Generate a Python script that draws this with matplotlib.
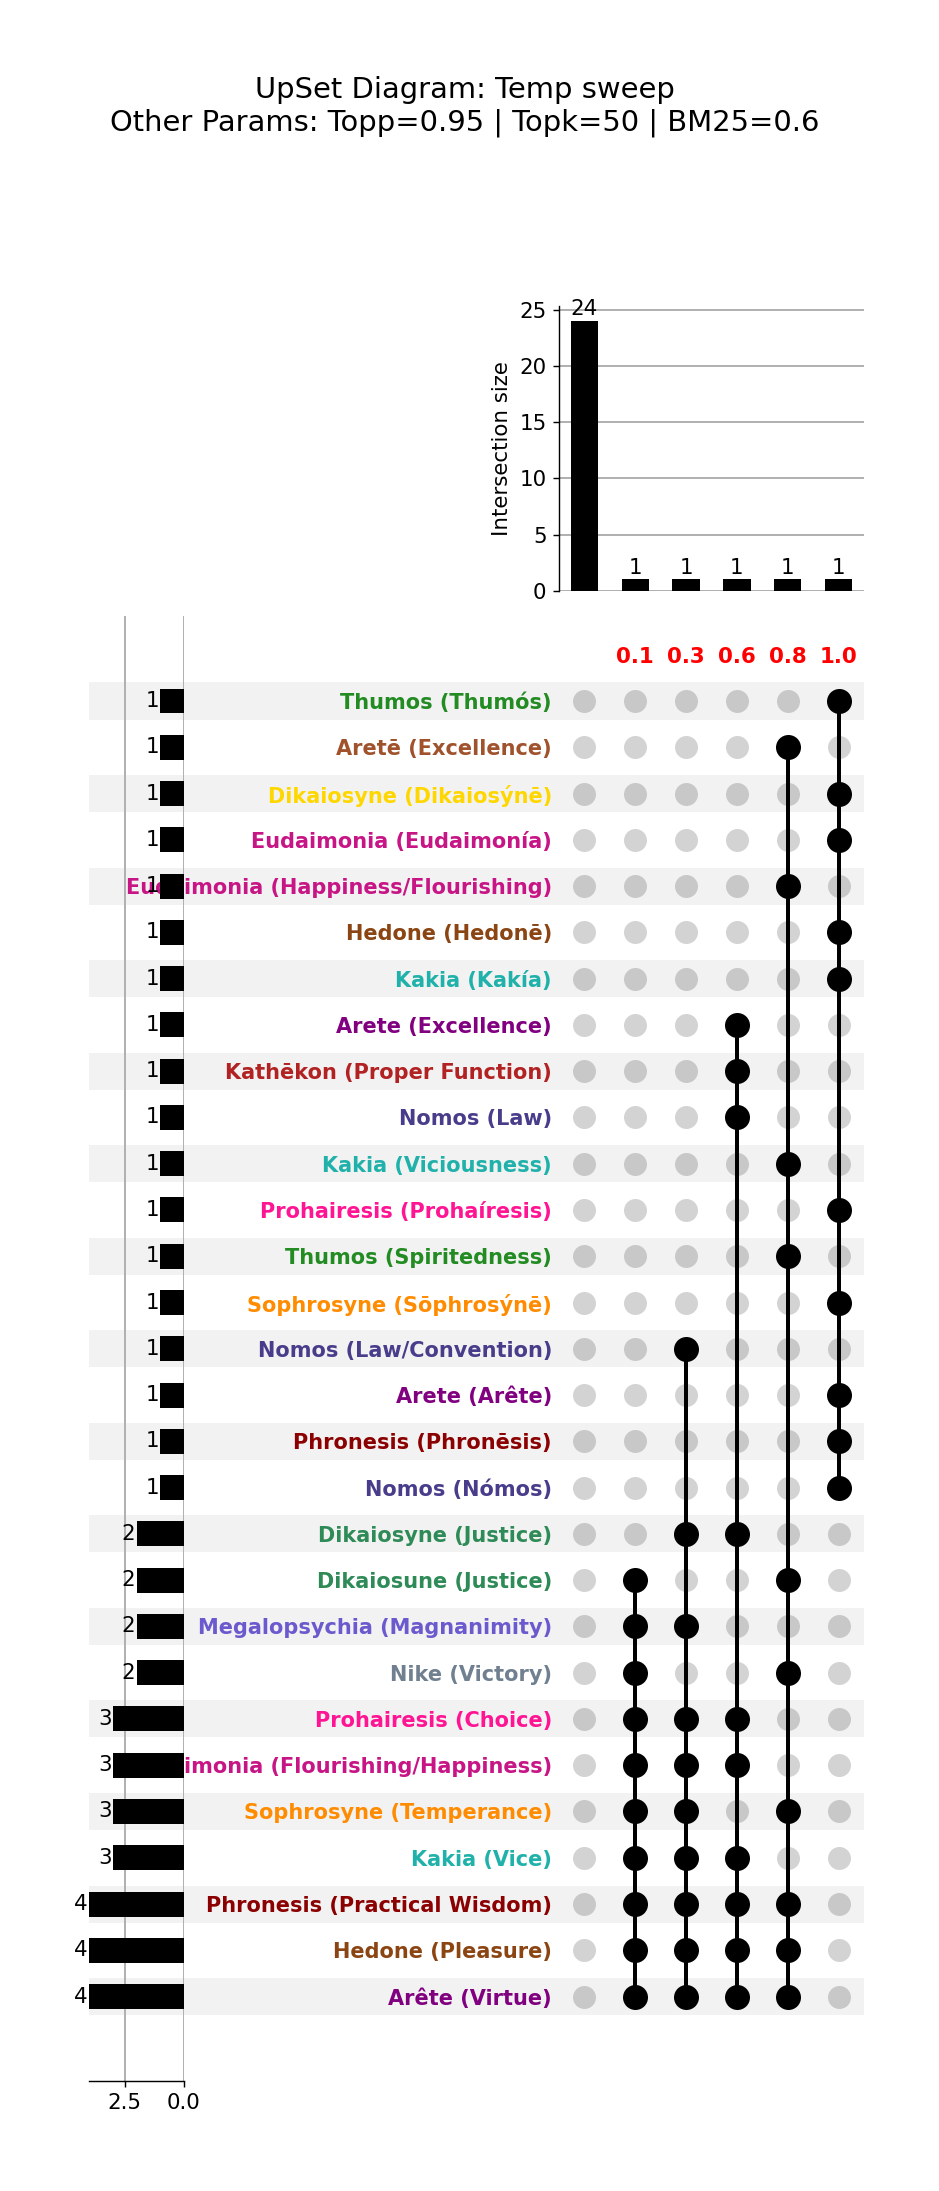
import matplotlib
matplotlib.use("Agg")
import matplotlib.pyplot as plt

# ---------------- data ----------------
title_text = "UpSet Diagram: Temp sweep\nOther Params: Topp=0.95 | Topk=50 | BM25=0.6"

column_labels = ["", "0.1", "0.3", "0.6", "0.8", "1.0"]
intersection_sizes = [24, 1, 1, 1, 1, 1]

set_names = [
    "Thumos (Thumós)", "Aretē (Excellence)", "Dikaiosyne (Dikaiosýnē)",
    "Eudaimonia (Eudaimonía)", "Eudaimonia (Happiness/Flourishing)", "Hedone (Hedonē)",
    "Kakia (Kakía)", "Arete (Excellence)", "Kathēkon (Proper Function)",
    "Nomos (Law)", "Kakia (Viciousness)", "Prohairesis (Prohaíresis)",
    "Thumos (Spiritedness)", "Sophrosyne (Sōphrosýnē)", "Nomos (Law/Convention)",
    "Arete (Arête)", "Phronesis (Phronēsis)", "Nomos (Nómos)",
    "Dikaiosyne (Justice)", "Dikaiosune (Justice)", "Megalopsychia (Magnanimity)",
    "Nike (Victory)", "Prohairesis (Choice)", "Eudaimonia (Flourishing/Happiness)",
    "Sophrosyne (Temperance)", "Kakia (Vice)", "Phronesis (Practical Wisdom)",
    "Hedone (Pleasure)", "Arête (Virtue)",
]

set_colors = [
    "#228B22", "#A0522D", "#FFD700",
    "#C71585", "#C71585", "#8B4513",
    "#20B2AA", "#800080", "#B22222",
    "#483D8B", "#20B2AA", "#FF1493",
    "#228B22", "#FF8C00", "#483D8B",
    "#800080", "#8B0000", "#483D8B",
    "#2E8B57", "#2E8B57", "#6A5ACD",
    "#708090", "#FF1493", "#C71585",
    "#FF8C00", "#20B2AA", "#8B0000",
    "#8B4513", "#800080",
]

set_totals = [1, 1, 1, 1, 1, 1, 1, 1, 1, 1, 1, 1, 1, 1, 1, 1, 1, 1,
              2, 2, 2, 2, 3, 3, 3, 3, 4, 4, 4]

memberships = [
    ["1.0"], ["0.8"], ["1.0"], ["1.0"], ["0.8"], ["1.0"], ["1.0"],
    ["0.6"], ["0.6"], ["0.6"], ["0.8"], ["1.0"], ["0.8"], ["1.0"],
    ["0.3"], ["1.0"], ["1.0"], ["1.0"],
    ["0.3", "0.6"], ["0.1", "0.8"], ["0.1", "0.3"], ["0.1", "0.8"],
    ["0.1", "0.3", "0.6"], ["0.1", "0.3", "0.6"], ["0.1", "0.3", "0.8"],
    ["0.1", "0.3", "0.6"],
    ["0.1", "0.3", "0.6", "0.8"], ["0.1", "0.3", "0.6", "0.8"],
    ["0.1", "0.3", "0.6", "0.8"],
]

# ---------------- layout ----------------
DPI = 128
W, H = 939, 2191
fig = plt.figure(figsize=(W / DPI, H / DPI), dpi=DPI)
plt.rcParams["font.family"] = ["DejaVu Sans"]


def px_axes(left, top, right, bottom):
    return fig.add_axes([left / W, 1 - bottom / H, (right - left) / W, (bottom - top) / H])


n_rows = len(set_names)
n_cols = len(column_labels)
row_idx = list(range(n_rows))
col_idx = list(range(n_cols))

row0, row_step = 701.0, 46.27
mat_top = row0 - 0.5 * row_step
mat_bot = row0 + (n_rows - 0.5) * row_step
grid_color = "#b0b0b0"

# shading
ax_sh = px_axes(89, mat_top, 864, mat_bot)
ax_sh.set_xlim(0, 1)
ax_sh.set_ylim(n_rows - 0.5, -0.5)
for i in row_idx:
    if i % 2 == 0:
        ax_sh.axhspan(i - 0.4, i + 0.4, color="#f2f2f2", lw=0)
ax_sh.axis("off")

# matrix
ax_m = px_axes(559, mat_top, 864, mat_bot)
ax_m.patch.set_alpha(0)
ax_m.set_xlim(-0.5, n_cols - 0.5)
ax_m.set_ylim(n_rows - 0.5, -0.5)
for i in row_idx:
    inactive = [c for c in col_idx if column_labels[c] not in memberships[i]]
    dot_col = "#c8c8c8" if i % 2 == 0 else "#d3d3d3"
    ax_m.scatter(inactive, [i] * len(inactive), s=167, color=dot_col, lw=0, zorder=2)
for c in col_idx:
    rows_on = [i for i in row_idx if column_labels[c] in memberships[i]]
    if rows_on:
        ax_m.plot([c, c], [min(rows_on), max(rows_on)], color="black", lw=2.25, zorder=3)
        ax_m.scatter([c] * len(rows_on), rows_on, s=198, color="black", lw=0, zorder=4)
for c in col_idx:
    if column_labels[c]:
        ax_m.text(c, -0.95, column_labels[c], color="red", fontsize=12,
                  fontweight="bold", ha="center", va="center", clip_on=False)
ax_m.set_yticks(row_idx)
ax_m.set_yticklabels(set_names, fontsize=11.75, fontweight="bold")
for lbl, col in zip(ax_m.get_yticklabels(), set_colors):
    lbl.set_color(col)
ax_m.tick_params(axis="y", length=0, pad=4.0)
ax_m.set_xticks([])
for s in ax_m.spines.values():
    s.set_visible(False)

# totals
tot_top, tot_bot = 616.0, 2081.0
ax_t = px_axes(89, tot_top, 184, tot_bot)
ax_t.patch.set_alpha(0)
ax_t.set_ylim((tot_bot - row0) / row_step, (tot_top - row0) / row_step)
ax_t.set_xlim(4, 0)
ax_t.barh(row_idx, set_totals, height=0.54, color="black", zorder=3)
for i, v in zip(row_idx, set_totals):
    ax_t.annotate(str(v), (v, i), xytext=(-0.6, 0), textcoords="offset points",
                  ha="right", va="center", fontsize=12, zorder=4, annotation_clip=False)
ax_t.set_xticks([2.5, 0.0])
ax_t.set_xticklabels(["2.5", "0.0"], fontsize=12)
ax_t.set_yticks([])
ax_t.grid(axis="x", color=grid_color, lw=1.1, zorder=0)
ax_t.set_axisbelow(True)
for k in ("left", "right", "top"):
    ax_t.spines[k].set_visible(False)

# intersections
ax_i = px_axes(559, 305.8, 864, 590.7)
ax_i.bar(col_idx, intersection_sizes, width=0.54, color="black", zorder=3)
ax_i.set_xlim(-0.5, n_cols - 0.5)
ax_i.set_ylim(0, 25.35)
ax_i.set_yticks([0, 5, 10, 15, 20, 25])
ax_i.tick_params(axis="y", labelsize=12)
ax_i.set_xticks([])
ax_i.set_ylabel("Intersection size", fontsize=12)
ax_i.grid(axis="y", color=grid_color, lw=1.1, zorder=0)
ax_i.set_axisbelow(True)
for k in ("bottom", "right", "top"):
    ax_i.spines[k].set_visible(False)
for c, v in zip(col_idx, intersection_sizes):
    ax_i.annotate(str(v), (c, v), xytext=(0, 1), textcoords="offset points",
                  ha="center", va="bottom", fontsize=12, annotation_clip=False)

fig.text(464.5 / W, 1 - 106.3 / H, title_text, ha="center", va="center", fontsize=16.3)

fig.savefig("out.png", dpi=DPI)
